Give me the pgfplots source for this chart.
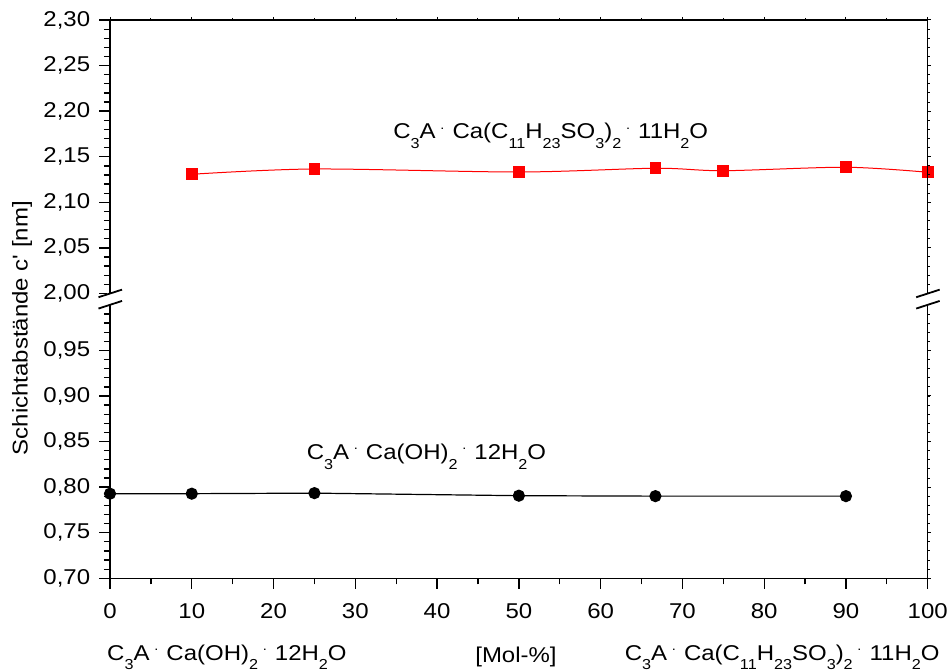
\documentclass[border=0pt]{standalone}
\usepackage{pgfplots}
\pgfplotsset{compat=1.18}
\usepackage{fontspec}
\setmainfont{Liberation Sans}[FakeStretch=1.12, Ligatures=TeXOff]
\newcommand\s[1]{\raisebox{-0.45em}{\fontsize{14.5}{14.5}\selectfont #1}}
\newcommand\md{\hspace{0.22em}\raisebox{0.45em}{\fontsize{13}{13}\selectfont.}\hspace{0.38em}}
\begin{document}
\fontsize{21.5}{25}\selectfont
\begin{tikzpicture}
\pgfplotsset{
  common/.style={
    scale only axis, width=817.7bp, height=558.4bp,
    xmin=0, xmax=100, ymin=0.70, ymax=1.3124,
    axis line style={line width=1.5bp},
    xtick={0,10,...,100}, minor x tick num=1,
    ytick={0.70,0.75,0.80,0.85,0.90,0.95,1.0124,1.0624,1.1124,1.1624,1.2124,1.2624,1.3124},
    minor ytick={0.71,0.72,...,0.995,1.0224,1.0324,...,1.305},
    tick align=outside,
    clip=false,
  }
}
\begin{axis}[common,
  tickpos=left,
  every tick/.style={black, line width=1.3bp},
  major tick length=10.5bp, minor tick length=6bp,
  yticklabels={{0,70},{0,75},{0,80},{0,85},{0,90},{0,95},{2,00},{2,05},{2,10},{2,15},{2,20},{2,25},{2,30}},
  tick label style={font=\fontsize{21.5}{25}\selectfont},
  xticklabel style={yshift=-7bp, inner xsep=0pt},
  yticklabel style={xshift=-2bp},
  /pgf/number format/assume math mode=true,
]
\addplot[black, line width=1.2bp, mark=*, mark size=5.5bp] table[x=x, y=y] {
x y
0 0.7928
10 0.7928
25 0.7934
50 0.7906
66.7 0.7901
90 0.7901
};
\addplot[red, line width=1bp, smooth, mark=square*, mark size=5.3bp] table[x=x, y expr=\thisrow{y}-0.9876] {
x y
10 2.1307
25 2.1365
50 2.1332
66.7 2.1373
75 2.1346
90 2.1384
100 2.1329
};
\node[inner sep=0pt] at ([yshift=-5bp]axis cs:53.9,1.1906) {C\s{3}A\md Ca(C\s{11}H\s{23}SO\s{3})\s{2}\md 11H\s{2}O};
\node[inner sep=0pt] at ([yshift=-5bp]axis cs:38.7,0.839) {C\s{3}A\md Ca(OH)\s{2}\md 12H\s{2}O};
\node[inner sep=0pt] at ([yshift=-79bp]axis cs:14.3,0.70) {C\s{3}A\md Ca(OH)\s{2}\md 12H\s{2}O};
\node[inner sep=0pt] at ([yshift=-79bp]axis cs:49.65,0.70) {[Mol-\%]};
\node[inner sep=0pt] at ([yshift=-79bp]axis cs:82.2,0.70) {C\s{3}A\md Ca(C\s{11}H\s{23}SO\s{3})\s{2}\md 11H\s{2}O};
\node[rotate=90, inner sep=0pt] at ([xshift=-88bp]rel axis cs:0,0.448) {Schichtabstände c' [nm]};
\coordinate (bl1) at (axis cs:0,1.0);
\coordinate (bl2) at (axis cs:0,1.0124);
\coordinate (br1) at (axis cs:100,1.0);
\coordinate (br2) at (axis cs:100,1.0124);
\coordinate (SW) at (rel axis cs:0,0);
\coordinate (NE) at (rel axis cs:1,1);
\end{axis}
\begin{axis}[common,
  tickpos=right,
  every tick/.style={black, line width=1bp},
  major tick length=3bp, minor tick length=2bp,
  xticklabels={}, yticklabels={},
]
\end{axis}
\fill[white] ([xshift=-3bp]bl1) rectangle ([xshift=3bp]bl2);
\fill[white] ([xshift=-3bp]br1) rectangle ([xshift=3bp]br2);
\foreach \c in {bl1,bl2,br1,br2}{
  \draw[line width=1.8bp] ([shift={(-11.5bp,-3.8bp)}]\c) -- ([shift={(12bp,3.8bp)}]\c);
}
\path ([shift={(-110bp,-92.7bp)}]SW) rectangle ([shift={(20.3bp,19.9bp)}]NE);
\end{tikzpicture}
\end{document}
